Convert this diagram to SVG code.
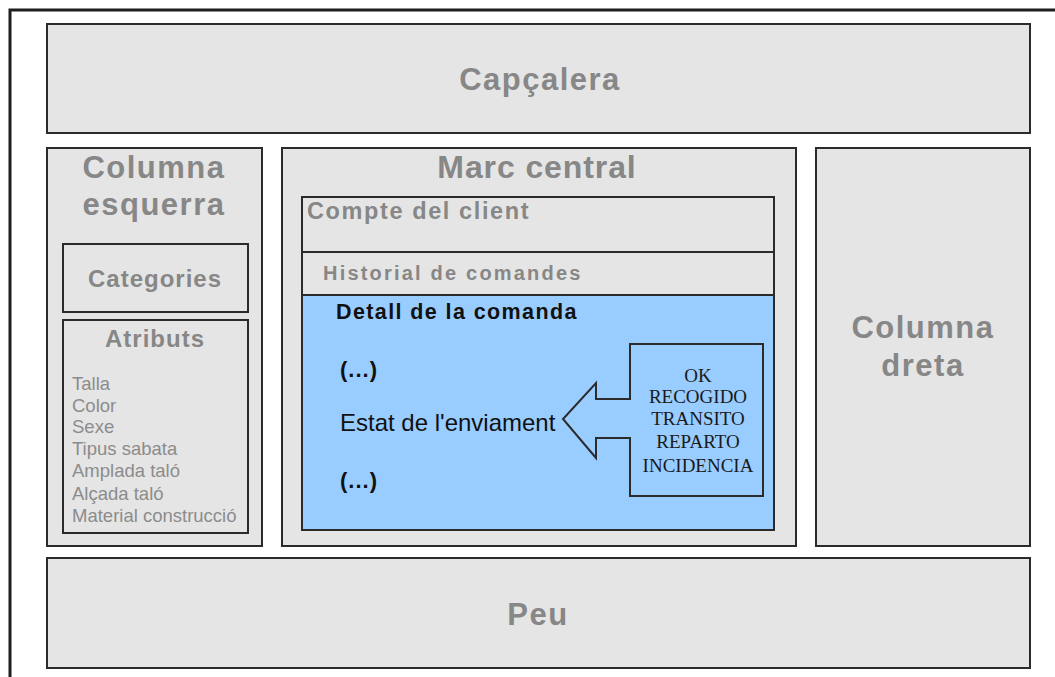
<svg xmlns="http://www.w3.org/2000/svg" width="1055" height="677" viewBox="0 0 1055 677">
<style>
.box{fill:#e5e5e5;stroke:#2b2b2b;stroke-width:2}
.blue{fill:#99ccff;stroke:#2b2b2b;stroke-width:2}
.t{font-family:"Liberation Sans",Arial,sans-serif;font-weight:bold;fill:#878787}
.big{font-size:31px;letter-spacing:1.5px;text-anchor:middle}
.mid{font-size:24px;letter-spacing:1px;text-anchor:middle}
.list{font-family:"Liberation Sans",Arial,sans-serif;font-size:18.5px;fill:#8c8c8c}
.dark{font-family:"Liberation Sans",Arial,sans-serif;fill:#111}
.serif{font-family:"Liberation Serif","Times New Roman",serif;font-size:19px;fill:#1a1a1a;text-anchor:middle}
</style>
<rect width="1055" height="677" fill="#ffffff"/>
<path d="M10,677 L10,10 L1057,10" fill="none" stroke="#1e1e1e" stroke-width="3"/>

<g id="capcalera">
<rect class="box" x="47" y="24" width="983" height="109"/>
<text class="t big" x="540" y="90">Capçalera</text>
</g>

<g id="columna-esquerra">
<rect class="box" x="47" y="148" width="215" height="398"/>
<text class="t big" x="154" y="178">Columna</text>
<text class="t big" x="154" y="215">esquerra</text>
</g>

<g id="categories">
<rect class="box" x="63" y="244" width="185" height="68"/>
<text class="t mid" x="155" y="287">Categories</text>
</g>

<g id="atributs">
<rect class="box" x="63" y="320" width="185" height="213"/>
<text class="t mid" x="155" y="347">Atributs</text>
<text class="list" x="72" y="390">Talla</text>
<text class="list" x="72" y="412">Color</text>
<text class="list" x="72" y="433">Sexe</text>
<text class="list" x="72" y="455">Tipus sabata</text>
<text class="list" x="72" y="477">Amplada taló</text>
<text class="list" x="72" y="500">Alçada taló</text>
<text class="list" x="72" y="522">Material construcció</text>
</g>

<g id="marc-central">
<rect class="box" x="282" y="148" width="514" height="398"/>
<text class="t" x="537" y="178" font-size="32" letter-spacing="0.9" text-anchor="middle">Marc central</text>
</g>

<g id="compte-client">
<rect class="box" x="302" y="197" width="472" height="55"/>
<text class="t" x="307" y="219" font-size="23.5" letter-spacing="1.6">Compte del client</text>
</g>

<g id="historial">
<rect class="box" x="302" y="252" width="472" height="43"/>
<text class="t" x="323" y="280" font-size="20" letter-spacing="2.2">Historial de comandes</text>
</g>

<g id="detall-comanda">
<rect class="blue" x="302" y="295" width="472" height="235"/>
<text class="dark" x="336" y="319" font-size="21.5" font-weight="bold" letter-spacing="1.4">Detall de la comanda</text>
<text class="dark" x="340" y="377" font-size="22" font-weight="bold" letter-spacing="1">(...)</text>
<text class="dark" x="340" y="431" font-size="24">Estat de l'enviament</text>
<text class="dark" x="340" y="488" font-size="22" font-weight="bold" letter-spacing="1">(...)</text>
</g>

<g id="estats-callout">
<path class="blue" d="M630,344 L763,344 L763,496 L630,496 L630,438 L596,438 L596,458 L563,419 L596,383 L596,399 L630,399 Z"/>
<text class="serif" x="698" y="382">OK</text>
<text class="serif" x="698" y="403">RECOGIDO</text>
<text class="serif" x="698" y="425">TRANSITO</text>
<text class="serif" x="698" y="448">REPARTO</text>
<text class="serif" x="698" y="472">INCIDENCIA</text>
</g>

<g id="columna-dreta">
<rect class="box" x="816" y="148" width="214" height="398"/>
<text class="t big" x="923" y="338">Columna</text>
<text class="t big" x="923" y="376">dreta</text>
</g>

<g id="peu">
<rect class="box" x="47" y="558" width="983" height="110"/>
<text class="t big" x="538" y="625">Peu</text>
</g>

<g id="connectors"></g>
</svg>
